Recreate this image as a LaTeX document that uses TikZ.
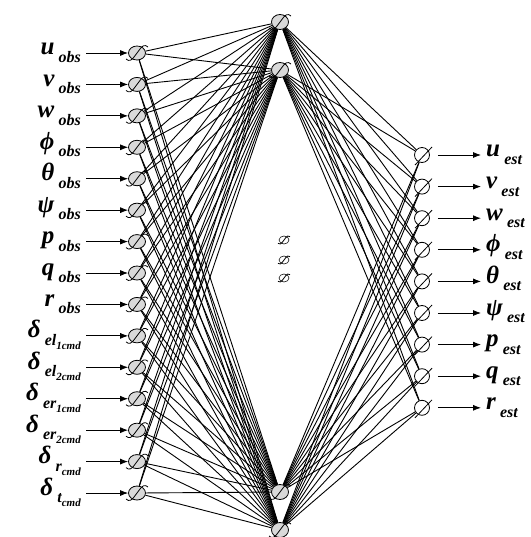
\documentclass[tikz,border=0pt]{standalone}
\usepackage{fontspec}
\setmainfont{Liberation Serif}
\usetikzlibrary{arrows.meta, shapes.geometric}

\newcommand{\lbl}[2]{#1\,\raisebox{-0.3em}{\fontsize{16}{16}\selectfont #2}}
\newcommand{\slbl}[2]{#1\raisebox{-0.25em}{\fontsize{11}{11}\selectfont #2}}

\begin{document}
\begin{tikzpicture}[x=1pt, y=-1pt, >={Latex[length=8pt, width=6pt]},
  neuron/.style={draw, ellipse, fill=gray!30, minimum width=17pt, minimum height=14pt, inner sep=0pt, line width=0.8pt},
  outnode/.style={draw, circle, minimum size=15pt, inner sep=0pt, line width=0.8pt},
  dotnode/.style={draw, ellipse, minimum width=10pt, minimum height=8pt, inner sep=0pt, line width=0.5pt},
  wire/.style={line width=0.9pt},
  lbl/.style={font=\fontsize{25}{27}\selectfont\bfseries\itshape, inner ysep=0pt, inner xsep=5pt},
  sig/.pic={\draw[line width=0.8pt] (-11,6) .. controls (-8,9) and (-5,7) .. (-3,4) -- (3,-4) .. controls (5,-7) and (8,-9) .. (11,-6);},
  slash/.pic={\draw[line width=0.8pt] (-7,10) -- (10,-8);}]
\useasboundingbox (0,0) rectangle (530,537);
\foreach \lab [count=\i] in {\lbl{u}{obs}, \lbl{v}{obs}, \lbl{w}{obs}, \lbl{ϕ}{obs}, \lbl{θ}{obs},
    \lbl{ψ}{obs}, \lbl{p}{obs}, \lbl{q}{obs}, \lbl{r}{obs}, \lbl{δ}{\slbl{el}{1cmd}},
    \lbl{δ}{\slbl{el}{2cmd}}, \lbl{δ}{\slbl{er}{1cmd}}, \lbl{δ}{\slbl{er}{2cmd}},
    \lbl{δ}{\slbl{r}{cmd}}, \lbl{δ}{\slbl{t}{cmd}}} {
  \node[neuron] (in\i) at (137, {53+(\i-1)*31.43}) {};
  \pic at (in\i) {sig};
  \node[lbl, anchor=base east] (li\i) at (86, {55+(\i-1)*31.43}) {\lab};
  \draw[->, line width=0.8pt] (li\i.east |- in\i) -- (in\i);
}
\foreach \y [count=\j] in {22, 70, 492, 530} {
  \node[neuron, minimum height=15pt] (h\j) at (280, \y) {};
  \pic at (h\j) {sig};
}
\foreach \y [count=\d] in {240, 260, 278} {
  \node[dotnode] (d\d) at (284, \y) {};
  \pic[scale=0.55] at (d\d) {sig};
}
\foreach \lab [count=\k] in {\lbl{u}{est}, \lbl{v}{est}, \lbl{w}{est}, \lbl{ϕ}{est}, \lbl{θ}{est},
    \lbl{ψ}{est}, \lbl{p}{est}, \lbl{q}{est}, \lbl{r}{est}} {
  \node[outnode] (out\k) at (422, {155+(\k-1)*31.6}) {};
  \pic at (out\k) {slash};
  \node[lbl, anchor=base west] (lo\k) at (481, {157+(\k-1)*31.6}) {\lab};
  \draw[->, line width=0.8pt] ([xshift=8pt]out\k.east) -- (lo\k.west |- out\k);
}
\foreach \i in {1,...,15}
  \foreach \j in {1,...,4}
    \draw[wire] (in\i) -- (h\j);
\foreach \j in {1,...,4}
  \foreach \k in {1,...,9}
    \draw[wire] (h\j) -- (out\k);
\end{tikzpicture}
\end{document}
